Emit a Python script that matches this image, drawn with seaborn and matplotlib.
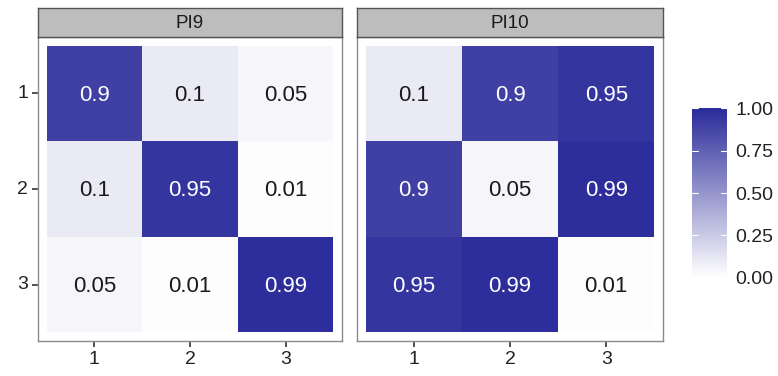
import numpy as np
import pandas as pd
import seaborn as sns
import matplotlib
matplotlib.use("Agg")
import matplotlib.pyplot as plt
from matplotlib.colors import LinearSegmentedColormap

sns.set_style("white")
plt.rcParams['font.family'] = ['Liberation Sans', 'DejaVu Sans']

categories = ["1", "2", "3"]
panel_titles = ["PI9", "PI10"]
pi9_values = [[0.9, 0.1, 0.05],
              [0.1, 0.95, 0.01],
              [0.05, 0.01, 0.99]]
pi10_values = [[0.1, 0.9, 0.95],
               [0.9, 0.05, 0.99],
               [0.95, 0.99, 0.01]]
cbar_ticks = [0.0, 0.25, 0.5, 0.75, 1.0]
cbar_labels = ["0.00", "0.25", "0.50", "0.75", "1.00"]

cmap = LinearSegmentedColormap.from_list("wb", ["#FFFFFF", "#2B2B9A"])

W, H = 778, 376
fig = plt.figure(figsize=(W / 100, H / 100), dpi=100)

def fx(px):
    return px / W

def fy(py):
    return 1 - py / H

panels = [(38, 342), (357, 663)]
top, bottom = 37, 341
strip_top = 8
cax = fig.add_axes([fx(692), fy(281), fx(727) - fx(692), fy(105) - fy(281)])

gap = 0.09
for i, (vals, title) in enumerate(zip([pi9_values, pi10_values], panel_titles)):
    l, r = panels[i]
    ax = fig.add_axes([fx(l), fy(bottom), fx(r) - fx(l), fy(top) - fy(bottom)])
    df = pd.DataFrame(vals, index=categories, columns=categories)
    sns.heatmap(df, ax=ax, cmap=cmap, vmin=0, vmax=1, annot=False,
                cbar=(i == 0), cbar_ax=cax if i == 0 else None,
                linewidths=0, square=False)
    for rr in range(3):
        for cc in range(3):
            v = vals[rr][cc]
            ax.text(cc + 0.5, rr + 0.52, f"{v:g}", ha="center", va="center",
                    fontsize=16, color="white" if v > 0.5 else "#1a1a1a")
    ax.set_xlim(-gap, 3 + gap)
    ax.set_ylim(3 + gap, -gap)
    ax.set_xticks([0.5, 1.5, 2.5])
    ax.set_xticklabels(categories, rotation=0)
    ax.set_yticks([0.5, 1.5, 2.5])
    ax.set_yticklabels(categories if i == 0 else [], rotation=0)
    ax.set_xlabel("")
    ax.set_ylabel("")
    ax.tick_params(axis="x", bottom=True, length=4, width=1.2, color="#333333",
                   labelsize=14, labelcolor="#222222", pad=3)
    ax.tick_params(axis="y", left=(i == 0), length=4, width=1.2, color="#333333",
                   labelsize=14, labelcolor="#222222", pad=3)
    for s in ax.spines.values():
        s.set_visible(True)
        s.set_color("#8a8a8a")
        s.set_linewidth(1.0)
    # strip
    sax = fig.add_axes([fx(l), fy(top), fx(r) - fx(l), fy(strip_top) - fy(top)])
    sax.set_facecolor("#BDBDBD")
    sax.set_xticks([])
    sax.set_yticks([])
    for s in sax.spines.values():
        s.set_visible(True)
        s.set_color("#555555")
        s.set_linewidth(1.0)
    sax.text(0.5, 0.47, title, ha="center", va="center", fontsize=13.5,
             color="#1a1a1a", transform=sax.transAxes)

cax.set_ylim(-0.02, 1.02)
cax.set_yticks(cbar_ticks)
cax.set_yticklabels(cbar_labels)
cax.tick_params(axis="y", right=True, length=0, labelsize=14,
                labelcolor="#222222", pad=6)
for s in cax.spines.values():
    s.set_visible(False)
for t in cbar_ticks:
    cax.plot([0, 0.18], [t, t], color="white", lw=0.8, transform=cax.get_yaxis_transform())
    cax.plot([0.82, 1], [t, t], color="white", lw=0.8, transform=cax.get_yaxis_transform())

fig.savefig("out.png", dpi=100)
